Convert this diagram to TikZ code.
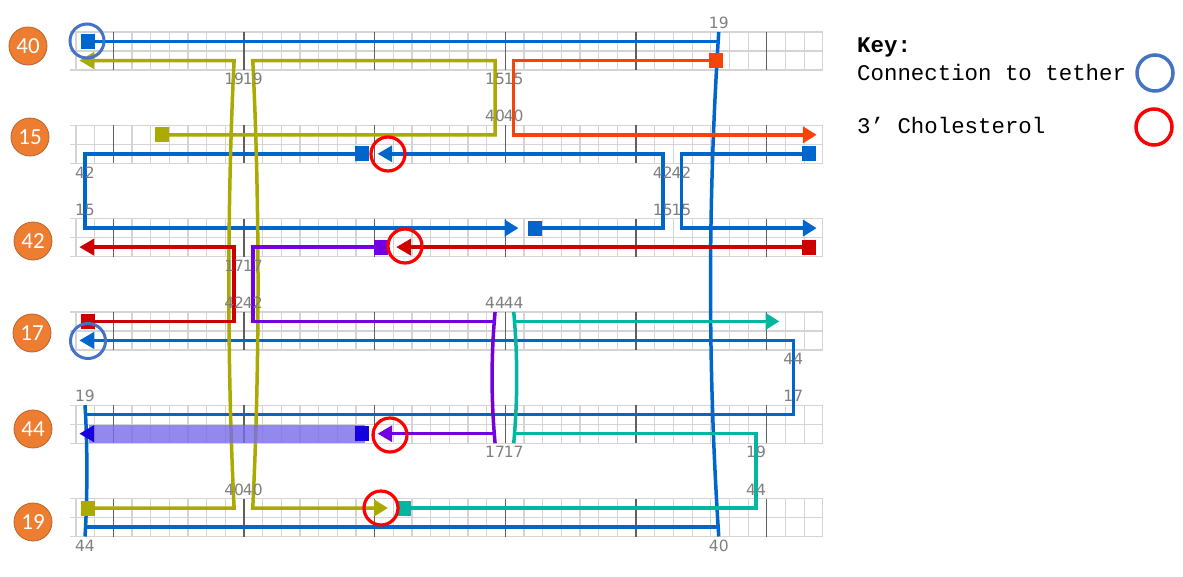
\documentclass[tikz,border=0pt]{standalone}
\usepackage{fontspec}
\setmainfont{DejaVu Sans}
\newfontfamily\lblfont{DejaVu Sans}
\newfontfamily\numfont{Carlito}
\newfontfamily\keyfont{Liberation Mono}
\definecolor{cblue}{HTML}{0066CC}
\definecolor{cyel}{HTML}{AAAA00}
\definecolor{corg}{HTML}{F74308}
\definecolor{cred}{HTML}{CC0000}
\definecolor{cpur}{HTML}{7300DE}
\definecolor{cteal}{HTML}{03B6A2}
\definecolor{cdblue}{HTML}{1700DE}
\definecolor{csel}{RGB}{120,108,232}
\definecolor{ringblue}{HTML}{4472C4}
\definecolor{ringred}{HTML}{FF0000}
\definecolor{numorange}{HTML}{ED7D31}
\definecolor{numedge}{HTML}{B9632A}
\definecolor{gridl}{HTML}{D4D4D4}
\definecolor{gridd}{HTML}{5F5F5F}
\definecolor{lblgray}{HTML}{7F7F7F}
% square: color, cell, y, direction of strand (+1 right, -1 left)
\newcommand{\strandsq}[4]{\fill[#1] ({cx(#2)+2.5*#4-7},{#3-7.5}) rectangle ({cx(#2)+2.5*#4+7},{#3+7.5});}
\newcommand{\arrowR}[3]{\fill[#1] ({cx(#2)-9},{#3-8.5}) -- ({cx(#2)+4.5},{#3}) -- ({cx(#2)-9},{#3+8.5}) -- cycle;}
\newcommand{\arrowL}[3]{\fill[#1] ({cx(#2)+9},{#3-8.5}) -- ({cx(#2)-5.5},{#3}) -- ({cx(#2)+9},{#3+8.5}) -- cycle;}
\begin{document}
\begin{tikzpicture}[x=1pt,y=-1pt,
  declare function={cx(\i)=85+18.64*\i; ex(\i)=76+18.67*\i; ty(\k)=32+93.3*\k; ra(\k)=32+93.3*\k+9.5; rb(\k)=32+93.3*\k+28.5;},
  strand/.style={line width=3.5pt, line join=miter, line cap=butt},
  xl/.style={inner sep=0pt, text=lblgray, font=\lblfont\fontsize{15.5}{15.5}\selectfont},
  numc/.style={circle, fill=numorange, draw=numedge, line width=0.8pt, minimum size=38pt, inner sep=0pt, text=white, font=\numfont\fontsize{23}{23}\selectfont},
  keytext/.style={anchor=base west, inner sep=0pt, font=\keyfont\fontsize{22.4}{22.4}\selectfont},
  ringb/.style={draw=ringblue, line width=3pt},
  ringr/.style={draw=ringred, line width=3.2pt}]
\useasboundingbox (0,0) rectangle (1183,576);
\fill[white] (0,0) rectangle (1183,576);
% grids
\foreach \k in {0,...,5}{
  \foreach \r in {0,19,38} \draw[gridl, line width=1.2pt] (70,{ty(\k)+\r}) -- (823,{ty(\k)+\r});
  \foreach \j in {0,...,40} \draw[gridl, line width=1.2pt] ({ex(\j)},{ty(\k)}) -- ({ex(\j)},{ty(\k)+38});
  \foreach \j in {2,9,...,37} \draw[gridd, line width=1.3pt] ({ex(\j)},{ty(\k)}) -- ({ex(\j)},{ty(\k)+38});
}
% long blue crossover
\draw[strand,cblue] ({cx(34)},{ty(0)}) .. controls ({cx(34)-11},{ty(0)+170}) and ({cx(34)-11},{ty(5)-130}) .. ({cx(34)},{ty(5)+38});
% Blue B1
\draw[strand,cblue] ({cx(0)},{ra(0)}) -- ({cx(34)},{ra(0)});
\draw[strand,cblue] ({cx(34)},{rb(5)}) -- ({cx(0)},{rb(5)});
\draw[strand,cblue] ({cx(0)},{ty(5)+38}) .. controls ({cx(0)+2.5},{ty(5)}) and ({cx(0)+2.5},{ty(4)+38}) .. ({cx(0)},{ty(4)});
\draw[strand,cblue] ({cx(0)},{ra(4)}) -- ({cx(38)},{ra(4)}) -- ({cx(38)},{rb(3)}) -- ({cx(0)+9},{rb(3)});
\strandsq{cblue}{0}{ra(0)}{1}
\arrowL{cblue}{0}{rb(3)}
% Blue B2
\draw[strand,cblue] ({cx(15)},{rb(1)}) -- ({cx(0)},{rb(1)}) -- ({cx(0)},{ra(2)}) -- ({cx(23)-9},{ra(2)});
\strandsq{cblue}{15}{rb(1)}{-1}
\arrowR{cblue}{23}{ra(2)}
% Blue B3
\draw[strand,cblue] ({cx(24)},{ra(2)}) -- ({cx(31)},{ra(2)}) -- ({cx(31)},{rb(1)}) -- ({cx(16)+9},{rb(1)});
\strandsq{cblue}{24}{ra(2)}{1}
\arrowL{cblue}{16}{rb(1)}
% Blue B4
\draw[strand,cblue] ({cx(39)},{rb(1)}) -- ({cx(32)},{rb(1)}) -- ({cx(32)},{ra(2)}) -- ({cx(39)-9},{ra(2)});
\strandsq{cblue}{39}{rb(1)}{-1}
\arrowR{cblue}{39}{ra(2)}
% Yellow Y1
\draw[strand,cyel] ({cx(0)},{ra(5)}) -- ({cx(8)},{ra(5)}) .. controls ({cx(8)-7},{ra(5)-140}) and ({cx(8)-7},{rb(0)+140}) .. ({cx(8)},{rb(0)}) -- ({cx(0)+9},{rb(0)});
\strandsq{cyel}{0}{ra(5)}{1}
\arrowL{cyel}{0}{rb(0)}
% Yellow Y2
\draw[strand,cyel] ({cx(4)},{ra(1)}) -- ({cx(22)},{ra(1)}) -- ({cx(22)},{rb(0)}) -- ({cx(9)},{rb(0)}) .. controls ({cx(9)+7},{rb(0)+140}) and ({cx(9)+7},{ra(5)-140}) .. ({cx(9)},{ra(5)}) -- ({cx(16)-9},{ra(5)});
\strandsq{cyel}{4}{ra(1)}{1}
\arrowR{cyel}{16}{ra(5)}
% Orange
\draw[strand,corg] ({cx(34)},{rb(0)}) -- ({cx(23)},{rb(0)}) -- ({cx(23)},{ra(1)}) -- ({cx(39)-9},{ra(1)});
\strandsq{corg}{34}{rb(0)}{-1}
\arrowR{corg}{39}{ra(1)}
% Red R1
\draw[strand,cred] ({cx(0)},{ra(3)}) -- ({cx(8)},{ra(3)}) -- ({cx(8)},{rb(2)}) -- ({cx(0)+9},{rb(2)});
\strandsq{cred}{0}{ra(3)}{1}
\arrowL{cred}{0}{rb(2)}
% Red R2
\draw[strand,cred] ({cx(39)},{rb(2)}) -- ({cx(17)+9},{rb(2)});
\strandsq{cred}{39}{rb(2)}{-1}
\arrowL{cred}{17}{rb(2)}
% Purple
\draw[strand,cpur] ({cx(16)},{rb(2)}) -- ({cx(9)},{rb(2)}) -- ({cx(9)},{ra(3)}) -- ({cx(22)},{ra(3)});
\draw[strand,cpur] ({cx(22)},{ty(3)}) .. controls ({cx(22)-4},{ty(3)+44}) and ({cx(22)-4},{ty(4)-6}) .. ({cx(22)},{ty(4)+38});
\draw[strand,cpur] ({cx(22)},{rb(4)}) -- ({cx(16)+9},{rb(4)});
\strandsq{cpur}{16}{rb(2)}{-1}
\arrowL{cpur}{16}{rb(4)}
% Teal
\draw[strand,cteal] ({cx(17)},{ra(5)}) -- ({cx(36)},{ra(5)}) -- ({cx(36)},{rb(4)}) -- ({cx(23)},{rb(4)});
\draw[strand,cteal] ({cx(23)},{ty(4)+38}) .. controls ({cx(23)+4},{ty(4)-6}) and ({cx(23)+4},{ty(3)+44}) .. ({cx(23)},{ty(3)});
\draw[strand,cteal] ({cx(23)},{ra(3)}) -- ({cx(37)-9},{ra(3)});
\strandsq{cteal}{17}{ra(5)}{1}
\arrowR{cteal}{37}{ra(3)}
% Selected strand on helix 44
\fill[csel, opacity=0.8] ({cx(0)+4},{ty(4)+19.5}) rectangle ({cx(15)},{ty(4)+37.5});
\arrowL{cdblue}{0}{rb(4)}
\strandsq{cdblue}{15}{rb(4)}{-1}
% helix numbers
\node[numc] (n40) at (28,46) {40};
\node[numc] (n15) at (30,137) {15};
\node[numc] (n42) at (33,241) {42};
\node[numc] (n17) at (32,333) {17};
\node[numc] (n44) at (33,429) {44};
\node[numc] (n19) at (33,522) {19};
% crossover labels
\node[xl] (a1) at ({cx(34)},{ty(0)-9.5}) {19};
\node[xl] (a2) at ({cx(8)},{ty(0)+47}) {19};
\node[xl] (a3) at ({cx(9)},{ty(0)+47}) {19};
\node[xl] (a4) at ({cx(22)},{ty(0)+47}) {15};
\node[xl] (a5) at ({cx(23)},{ty(0)+47}) {15};
\node[xl] (b1) at ({cx(22)},{ty(1)-9}) {40};
\node[xl] (b2) at ({cx(23)},{ty(1)-9}) {40};
\node[xl] (b3) at ({cx(0)},{ty(1)+47}) {42};
\node[xl] (b4) at ({cx(31)},{ty(1)+47}) {42};
\node[xl] (b5) at ({cx(32)},{ty(1)+47}) {42};
\node[xl] (c1) at ({cx(0)},{ty(2)-9}) {15};
\node[xl] (c2) at ({cx(31)},{ty(2)-9}) {15};
\node[xl] (c3) at ({cx(32)},{ty(2)-9}) {15};
\node[xl] (c4) at ({cx(8)},{ty(2)+47}) {17};
\node[xl] (c5) at ({cx(9)},{ty(2)+47}) {17};
\node[xl] (d1) at ({cx(8)},{ty(3)-9}) {42};
\node[xl] (d2) at ({cx(9)},{ty(3)-9}) {42};
\node[xl] (d3) at ({cx(22)},{ty(3)-9}) {44};
\node[xl] (d4) at ({cx(23)},{ty(3)-9}) {44};
\node[xl] (d5) at ({cx(38)},{ty(3)+47}) {44};
\node[xl] (e1) at ({cx(0)},{ty(4)-9}) {19};
\node[xl] (e2) at ({cx(38)},{ty(4)-9}) {17};
\node[xl] (e3) at ({cx(22)},{ty(4)+47}) {17};
\node[xl] (e4) at ({cx(23)},{ty(4)+47}) {17};
\node[xl] (e5) at ({cx(36)},{ty(4)+47}) {19};
\node[xl] (f1) at ({cx(8)},{ty(5)-9}) {40};
\node[xl] (f2) at ({cx(9)},{ty(5)-9}) {40};
\node[xl] (f3) at ({cx(36)},{ty(5)-9}) {44};
\node[xl] (f4) at ({cx(0)},{ty(5)+47}) {44};
\node[xl] (f5) at ({cx(34)},{ty(5)+47}) {40};
% rings
\draw[ringb] (87,41) circle (17pt);
\draw[ringb] (88,341) circle (17.5pt);
\draw[ringr] (388,154) circle (17pt);
\draw[ringr] (405,246) circle (17pt);
\draw[ringr] (390,435) circle (17pt);
\draw[ringr] (381,508) circle (17pt);
% key
\node[keytext, font=\keyfont\bfseries\fontsize{22.4}{22.4}\selectfont] (key) at (857,52) {Key:};
\node[keytext] (k1) at (857,80) {Connection to tether};
\node[keytext] (k2) at (857,133) {3’ Cholesterol};
\draw[ringb, line width=3.5pt] (1155,73) circle (18pt);
\draw[ringr, line width=3.5pt] (1154,127) circle (18pt);
\end{tikzpicture}
\end{document}
